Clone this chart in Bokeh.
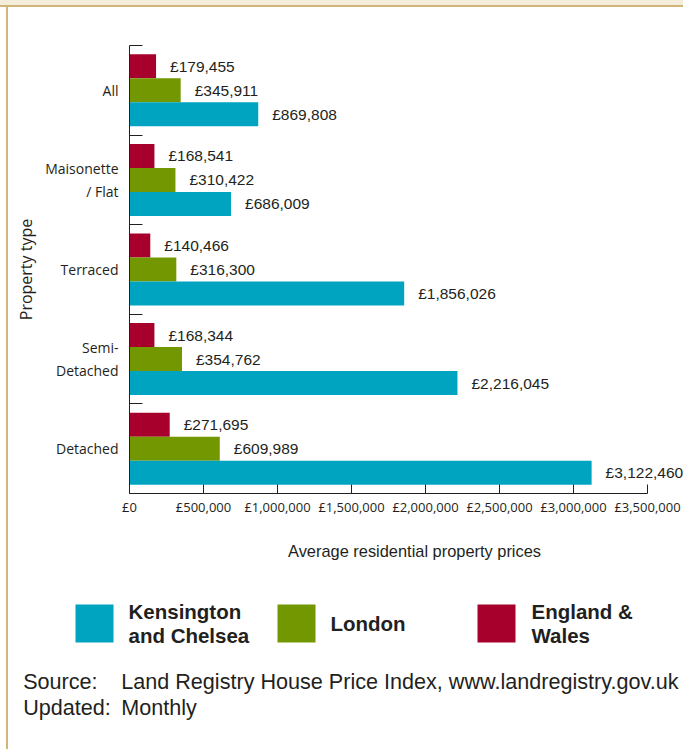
import numpy as np
from bokeh.plotting import figure
from bokeh.layouts import column, row
from bokeh.models import (Range1d, FixedTicker, ColumnDataSource, LabelSet, Spacer)
from bokeh.core.properties import value
from bokeh.embed import file_html
from bokeh.resources import INLINE

# ---------------- data ----------------
categories = ["All", "Maisonette\n/ Flat", "Terraced", "Semi-\nDetached", "Detached"]
kensington = [869808, 686009, 1856026, 2216045, 3122460]
london = [345911, 310422, 316300, 354762, 609989]
england_wales = [179455, 168541, 140466, 168344, 271695]
series_names = ["Kensington\nand Chelsea", "London", "England &\nWales"]
x_ticks = [0, 500000, 1000000, 1500000, 2000000, 2500000, 3000000, 3500000]
x_tick_labels = ["£0", "£500,000", "£1,000,000", "£1,500,000", "£2,000,000",
                 "£2,500,000", "£3,000,000", "£3,500,000"]
x_title = "Average residential property prices"
y_title = "Property type"
source_keys = ["Source:", "Updated:"]
source_values = ["Land Registry House Price Index, www.landregistry.gov.uk", "Monthly"]

# ---------------- styles ----------------
CYAN, GREEN, RED = "#00a3c0", "#739700", "#a8002d"
INK = "#231f20"
TAN = "#d3b57a"
BEIGE = "#f4eddc"
PAGE_W, PAGE_H = 683, 749
TOP_BAND, TOP_LINE = 5, 2
LEFT_GAP, LEFT_LINE = 6, 2
FIG_W = PAGE_W - LEFT_GAP - LEFT_LINE          # 675
FIG_A_H = 513
FIG_B_H = PAGE_H - TOP_BAND - TOP_LINE - FIG_A_H

# frame geometry of the chart (pixels)
FRAME_LEFT = 121
FRAME_TOP = 38
FRAME_BOTTOM_PAD = 27
AXIS_PX = 518                                   # pixels from £0 to last tick
frame_w = FIG_W - FRAME_LEFT
x_max = x_ticks[-1] * frame_w / AXIS_PX

pA = figure(width=FIG_W, height=FIG_A_H, x_range=Range1d(0, x_max),
            y_range=Range1d(len(categories), 0),
            output_backend="svg", toolbar_location=None,
            min_border_left=FRAME_LEFT, min_border_right=0,
            min_border_top=FRAME_TOP, min_border_bottom=FRAME_BOTTOM_PAD)
pA.xgrid.visible = False
pA.ygrid.visible = False
pA.outline_line_color = None
pA.background_fill_color = "white"
pA.border_fill_color = "white"

band_pos = np.arange(len(categories)) + 0.5
bar_h = 0.268

for vals, off, color in [(england_wales, -bar_h, RED), (london, 0.0, GREEN),
                         (kensington, bar_h, CYAN)]:
    src = ColumnDataSource(dict(y=band_pos + off, right=vals,
                                label=[f"£{v:,}" for v in vals]))
    pA.hbar(y="y", left=0, right="right", height=bar_h, source=src,
            fill_color=color, line_color=None)
    pA.add_layout(LabelSet(x="right", y="y", text="label", source=src,
                           x_offset=14, text_baseline="middle", text_align="left",
                           text_font=value("Liberation Sans"),
                           text_font_size=value("15.5px"), text_color=INK))

# x axis
xa = pA.xaxis[0]
xa.ticker = FixedTicker(ticks=x_ticks)
xa.major_label_overrides = dict(zip(x_ticks, x_tick_labels))
xa.bounds = (x_ticks[0], x_ticks[-1])
xa.major_tick_in = 9
xa.major_tick_out = 0
xa.minor_tick_in = 0
xa.minor_tick_out = 0
xa.major_label_standoff = 4
xa.major_label_text_font = "Open Sans"
xa.major_label_text_font_size = "13px"
xa.major_label_text_color = INK
xa.axis_line_color = INK
xa.major_tick_line_color = INK

# y axis
ya = pA.yaxis[0]
ya.ticker = FixedTicker(ticks=band_pos.tolist(),
                        minor_ticks=list(range(len(categories) + 1)))
ya.major_label_overrides = dict(zip(band_pos.tolist(), categories))
ya.major_tick_in = 0
ya.major_tick_out = 0
ya.minor_tick_in = 13
ya.minor_tick_out = 0
ya.minor_tick_line_color = INK
ya.major_label_standoff = 11
ya.major_label_text_font = "Open Sans"
ya.major_label_text_font_size = "14px"
ya.major_label_text_color = INK
ya.axis_line_color = INK
ya.axis_label = y_title
ya.axis_label_text_font = "Open Sans"
ya.axis_label_text_font_size = "16px"
ya.axis_label_text_font_style = "normal"
ya.axis_label_text_color = INK
ya.axis_label_standoff = 5

# ---------------- lower panel: axis title, legend, source ----------------
pB = figure(width=FIG_W, height=FIG_B_H, x_range=Range1d(0, FIG_W),
            y_range=Range1d(FIG_B_H, 0), output_backend="svg",
            toolbar_location=None, x_axis_location=None, y_axis_location=None,
            min_border_left=0, min_border_right=0, min_border_top=0,
            min_border_bottom=0)
pB.xgrid.visible = False
pB.ygrid.visible = False
pB.outline_line_color = None
pB.background_fill_color = "white"
pB.border_fill_color = "white"

pB.text(x=[406], y=[30], text=[x_title], text_font=value("Liberation Sans"),
        text_font_size=value("16.4px"), text_align="center",
        text_baseline="middle", text_color=INK)

# legend swatches and names
sw_x = [86, 288, 488]
sw_y = 103
txt_x = [120, 322, 523]
pB.rect(x=sw_x, y=[sw_y] * 3, width=38, height=38,
        fill_color=[CYAN, GREEN, RED], line_color=None)
lt_x, lt_y, lt_t = [], [], []
for name, tx in zip(series_names, txt_x):
    lines = name.split("\n")
    n = len(lines)
    for i, ln in enumerate(lines):
        lt_x.append(tx)
        lt_y.append(sw_y + (i - (n - 1) / 2) * 23.5)
        lt_t.append(ln)
pB.text(x=lt_x, y=lt_y, text=lt_t, text_font=value("Liberation Sans"),
        text_font_size=value("20.5px"), text_font_style="bold",
        text_align="left", text_baseline="middle", text_color=INK)

# source text
src_y = [161, 187]
pB.text(x=[14.7] * 2, y=src_y, text=source_keys, text_font=value("Liberation Sans"),
        text_font_size=value("21.6px"), text_align="left", text_baseline="middle",
        text_color=INK)
pB.text(x=[112.7] * 2, y=src_y, text=source_values, text_font=value("Liberation Sans"),
        text_font_size=value("21.6px"), text_align="left", text_baseline="middle",
        text_color=INK)

# ---------------- page assembly with decorative borders ----------------
def left_border(h):
    return [Spacer(width=LEFT_GAP, height=h),
            Spacer(width=LEFT_LINE, height=h, styles={"background-color": TAN})]


page = column(
    Spacer(width=PAGE_W, height=TOP_BAND, styles={"background-color": BEIGE}),
    Spacer(width=PAGE_W, height=TOP_LINE, styles={"background-color": TAN}),
    row(*left_border(FIG_A_H), pA, spacing=0),
    row(*left_border(FIG_B_H), pB, spacing=0),
    spacing=0,
)

open("out.html", "w").write(file_html(page, INLINE))
